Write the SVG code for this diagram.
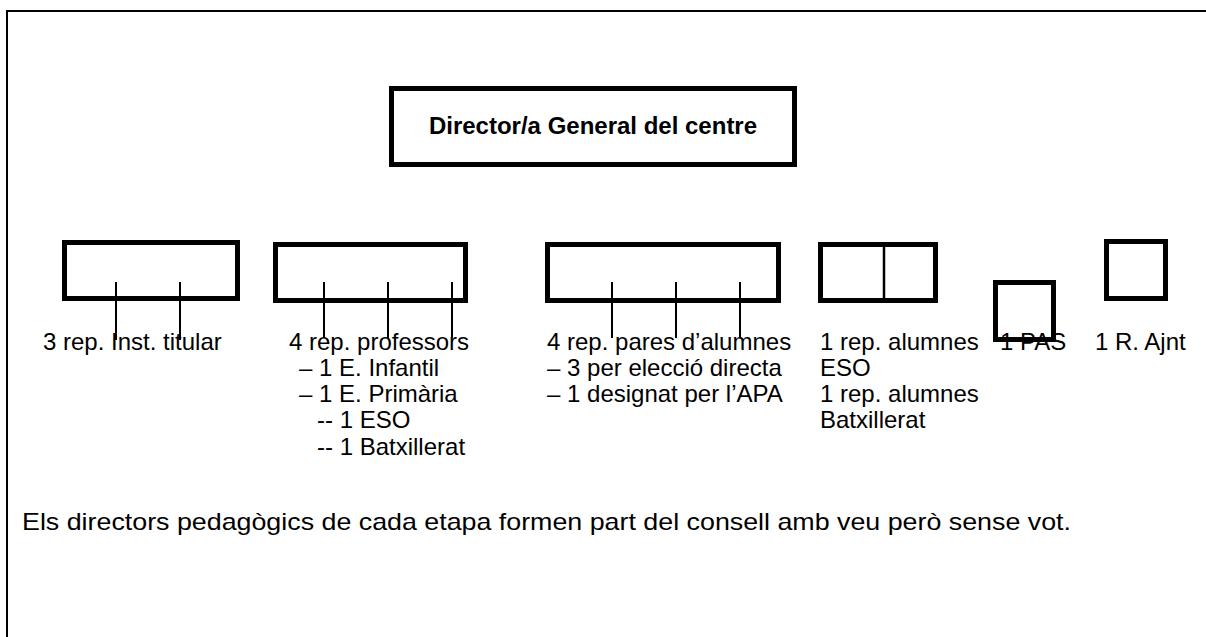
<svg xmlns="http://www.w3.org/2000/svg" width="1206" height="637" viewBox="0 0 1206 637">
<style>
.box{fill:none;stroke:#000;stroke-width:5}
.frame{fill:none;stroke:#000;stroke-width:2}
.ln{stroke:#000;stroke-width:2;fill:none}
text{font-family:"Liberation Sans",Arial,sans-serif;font-size:24px;fill:#000}
.title{font-weight:bold;font-size:24px}
</style>
<rect width="1206" height="637" fill="#fff"/>
<rect class="frame" x="7" y="11" width="1300" height="700"/>
<g id="director">
<rect class="box" x="391.5" y="88.5" width="403" height="76"/>
<text class="title" x="593" y="134" text-anchor="middle">Director/a General del centre</text>
</g>
<g id="titular">
<rect class="box" x="64.5" y="242.5" width="173" height="56"/>
<text x="43" y="350">3 rep. Inst. titular</text>
</g>
<g id="professors">
<rect class="box" x="275.5" y="244.5" width="190" height="56"/>
<text x="289" y="350">4 rep. professors</text>
<text x="299" y="376">– 1 E. Infantil</text>
<text x="299" y="402">– 1 E. Primària</text>
<text x="317" y="428">-- 1 ESO</text>
<text x="317" y="455">-- 1 Batxillerat</text>
</g>
<g id="pares">
<rect class="box" x="547.5" y="244.5" width="231" height="56"/>
<text x="547" y="350">4 rep. pares d’alumnes</text>
<text x="547" y="376">– 3 per elecció directa</text>
<text x="547" y="402">– 1 designat per l’APA</text>
</g>
<g id="alumnes">
<rect class="box" x="820.5" y="244.5" width="115" height="56"/>
<line class="ln" x1="884" y1="247" x2="884" y2="298" style="stroke-width:2.5"/>
<text x="820" y="350">1 rep. alumnes</text>
<text x="820" y="376">ESO</text>
<text x="820" y="402">1 rep. alumnes</text>
<text x="820" y="428">Batxillerat</text>
</g>
<g id="pas">
<rect class="box" x="995.5" y="282.5" width="58" height="57"/>
<text x="1000" y="350">1 PAS</text>
</g>
<g id="ajnt">
<rect class="box" x="1106.5" y="241.5" width="59" height="57"/>
<text x="1095" y="350">1 R. Ajnt</text>
</g>
<g id="connectors">
<line class="ln" x1="116" y1="282" x2="116" y2="340"/>
<line class="ln" x1="180" y1="282" x2="180" y2="340"/>
<line class="ln" x1="324" y1="282" x2="324" y2="338"/>
<line class="ln" x1="388" y1="282" x2="388" y2="338"/>
<line class="ln" x1="452" y1="282" x2="452" y2="338"/>
<line class="ln" x1="612" y1="282" x2="612" y2="338"/>
<line class="ln" x1="676" y1="282" x2="676" y2="338"/>
<line class="ln" x1="740" y1="282" x2="740" y2="338"/>
</g>
<g id="note">
<text x="22" y="530" textLength="1049" lengthAdjust="spacingAndGlyphs">Els directors pedagògics de cada etapa formen part del consell amb veu però sense vot.</text>
</g>
</svg>
